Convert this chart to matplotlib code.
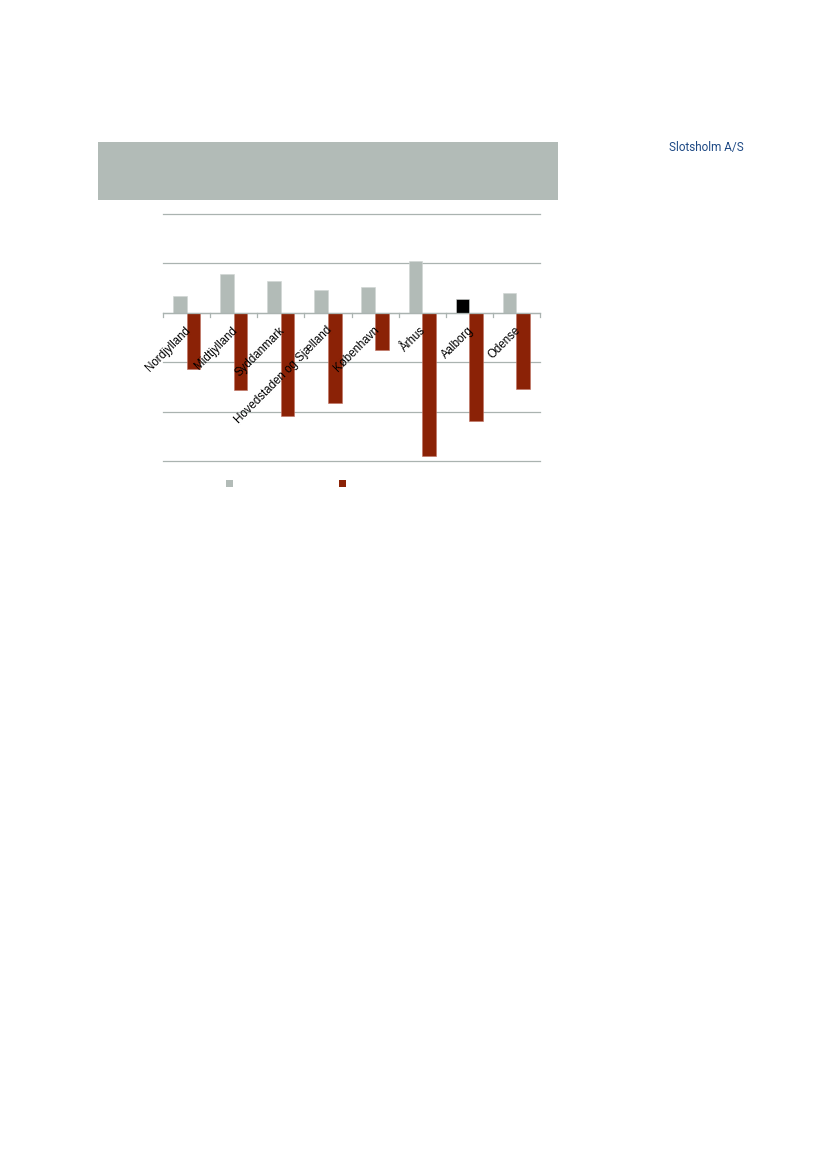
import matplotlib.pyplot as plt
from matplotlib.patches import Patch
import numpy as np

# values (unit = one gridline step)
regions = ["Nordjylland", "Midtjylland", "Syddanmark", "Hovedstaden og Sjælland",
           "København", "Århus", "Aalborg", "Odense"]
gray_vals = [0.33, 0.78, 0.65, 0.46, 0.53, 1.05, 0.27, 0.41]
red_vals = [-1.14, -1.57, -2.09, -1.83, -0.75, -2.89, -2.20, -1.54]
highlight = "Aalborg"

GRAY = "#b2bbb7"
RED = "#8b2206"
GRID = "#aab3b0"

fig = plt.figure(figsize=(8.26, 11.69), dpi=100)
W, H = 826, 1169

# gray header band
fig.patches.append(plt.Rectangle((98 / W, 1 - 200 / H), 460 / W, 58 / H,
                                 transform=fig.transFigure, facecolor=GRAY,
                                 edgecolor="none"))
fig.text(669 / W, 1 - 147 / H, "Slotsholm A/S", color="#1f4a85", fontsize=8.5,
         family=["Liberation Sans Narrow", "Roboto"], va="center", ha="left")

ax = fig.add_axes([163 / W, 1 - 461 / H, 377 / W, 247 / H])
x = np.arange(len(regions))
bw = 0.29
gcols = ["black" if r == highlight else GRAY for r in regions]
ax.bar(x - bw / 2, gray_vals, bw, color=gcols, edgecolor="#d0d5d3", linewidth=0.4, zorder=3)
ax.bar(x + bw / 2, red_vals, bw, color=RED, edgecolor="#c07060", linewidth=0.4, zorder=3)

ax.set_xlim(-0.5, len(regions) - 0.5)
ax.set_ylim(-3, 2)
ax.set_yticks([-3, -2, -1, 0, 1, 2])
ax.yaxis.grid(True, color=GRID, linewidth=0.9)
for gl in ax.get_ygridlines():
    gl.set_clip_on(False)
ax.set_axisbelow(True)
ax.tick_params(axis="y", left=False, labelleft=False)
for s in ["left", "right", "top", "bottom"]:
    ax.spines[s].set_visible(False)
ax.axhline(0, color=GRID, linewidth=0.9, zorder=4)

# boundary tick marks on the zero line
for b in np.arange(-0.5, len(regions)):
    ax.plot([b, b], [0, -0.08], color=GRID, linewidth=0.9, zorder=4, clip_on=False)

ax.set_xticks(x)
ax.set_xticklabels([])
ax.tick_params(axis="x", which="major", length=0)
for xi, name in zip(x, regions):
    ax.text(xi + 0.05, -0.32, name, rotation=45, rotation_mode="anchor",
            ha="right", va="center", fontsize=8.3, family="Liberation Sans", zorder=5)

ax.legend(handles=[Patch(facecolor=GRAY), Patch(facecolor=RED)], labels=["", ""],
          ncol=2, frameon=False, fontsize=8, handlelength=0.6, handleheight=0.6,
          handletextpad=0, columnspacing=9.6, borderpad=0, borderaxespad=0,
          loc="center left", bbox_to_anchor=(226 / W, 1 - 484 / H),
          bbox_transform=fig.transFigure)

fig.savefig("out.png", dpi=100)
